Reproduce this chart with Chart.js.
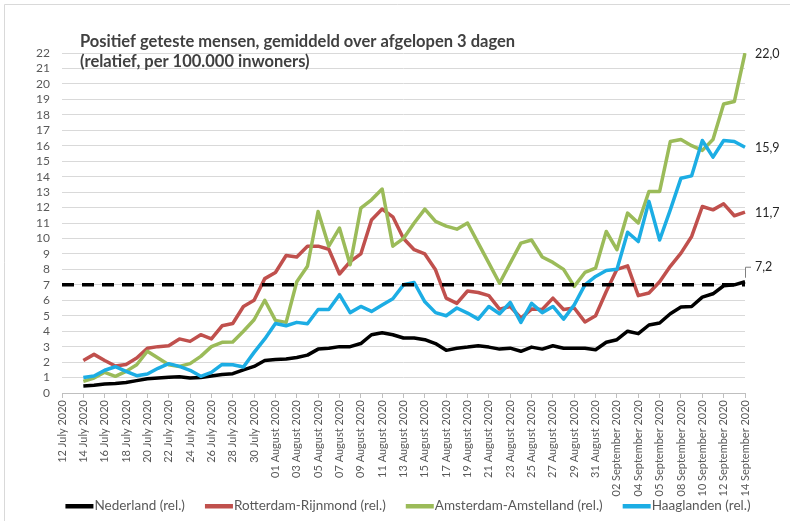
<!DOCTYPE html>
<html>
<head>
<meta charset="utf-8">
<title>Positief geteste mensen</title>
<script src="https://cdn.jsdelivr.net/npm/chart.js"></script>
<style>
    body { margin: 0; background: #ffffff; }
    canvas { display: block; }
</style>
</head>
<body>
<canvas id="chart" width="790" height="521"></canvas>
<script>
// Axis labels, one every two days (12 July .. 14 September 2020)
const tickLabels = [
    '12 July 2020', '14 July 2020', '16 July 2020', '18 July 2020', '20 July 2020',
    '22 July 2020', '24 July 2020', '26 July 2020', '28 July 2020', '30 July 2020',
    '01 August 2020', '03 August 2020', '05 August 2020', '07 August 2020', '09 August 2020',
    '11 August 2020', '13 August 2020', '15 August 2020', '17 August 2020', '19 August 2020',
    '21 August 2020', '23 August 2020', '25 August 2020', '27 August 2020', '29 August 2020',
    '31 August 2020', '02 September 2020', '04 September 2020', '05 September 2020', '08 September 2020',
    '10 September 2020', '12 September 2020', '14 September 2020'
];

const titleLines = [
    'Positief geteste mensen, gemiddeld over afgelopen 3 dagen',
    '(relatief, per 100.000 inwoners)'
];

const seriesNames = ['Nederland (rel.)', 'Rotterdam-Rijnmond (rel.)', 'Amsterdam-Amstelland (rel.)', 'Haaglanden (rel.)'];

// daily values from 14 July to 14 September
const nederland = [
    0.45, 0.5, 0.58, 0.62, 0.68, 0.8, 0.92, 0.97, 1.02, 1.05, 0.97, 1.0, 1.1, 1.2, 1.25, 1.5,
    1.72, 2.1, 2.16, 2.2, 2.3, 2.45, 2.84, 2.9, 3.0, 3.0, 3.2, 3.77, 3.9, 3.77, 3.56, 3.56,
    3.45, 3.2, 2.76, 2.9, 2.97, 3.06, 2.97, 2.84, 2.9, 2.7, 2.97, 2.84, 3.06, 2.9, 2.9, 2.9,
    2.8, 3.28, 3.45, 4.0, 3.84, 4.4, 4.53, 5.13, 5.56, 5.6, 6.2, 6.42, 6.94, 7.0, 7.2
];
const rotterdam = [
    2.1, 2.5, 2.1, 1.75, 1.85, 2.26, 2.9, 3.0, 3.06, 3.5, 3.34, 3.77, 3.5, 4.35, 4.5, 5.6,
    6.0, 7.4, 7.8, 8.9, 8.8, 9.5, 9.5, 9.3, 7.7, 8.5, 9.0, 11.2, 11.9, 11.4, 10.0, 9.27,
    9.0, 7.97, 6.14, 5.8, 6.6, 6.5, 6.3, 5.43, 5.6, 4.85, 5.43, 5.4, 6.14, 5.4, 5.5, 4.6,
    5.0, 6.57, 8.0, 8.23, 6.3, 6.47, 7.2, 8.2, 9.05, 10.13, 12.07, 11.85, 12.24, 11.47, 11.7
];
const amsterdam = [
    0.75, 0.97, 1.34, 1.08, 1.4, 1.83, 2.7, 2.26, 1.83, 1.72, 1.9, 2.37, 3.0, 3.28, 3.3, 4.0,
    4.74, 6.0, 4.7, 4.57, 7.2, 8.2, 11.75, 9.5, 10.67, 8.3, 11.96, 12.5, 13.2, 9.5, 10.0, 11.0,
    11.9, 11.1, 10.8, 10.6, 11.0, 9.7, 8.4, 7.1, 8.4, 9.7, 9.9, 8.8, 8.45, 8.0, 6.9, 7.8,
    8.08, 10.45, 9.27, 11.64, 11.0, 13.04, 13.04, 16.27, 16.4, 16.0, 15.7, 16.4, 18.7, 18.86, 22.0
];
const haaglanden = [
    1.0, 1.1, 1.47, 1.7, 1.4, 1.12, 1.23, 1.6, 1.9, 1.72, 1.47, 1.08, 1.34, 1.85, 1.83, 1.68,
    2.63, 3.5, 4.5, 4.35, 4.57, 4.48, 5.4, 5.4, 6.36, 5.2, 5.6, 5.28, 5.7, 6.1, 7.0, 7.15,
    5.9, 5.2, 5.0, 5.5, 5.17, 4.78, 5.6, 5.13, 5.86, 4.57, 5.8, 5.2, 5.6, 4.78, 5.7, 7.0,
    7.54, 7.93, 8.0, 10.4, 9.8, 12.4, 9.9, 11.85, 13.9, 14.05, 16.34, 15.26, 16.34, 16.27, 15.9
];

const threshold = 7;
const daysBeforeData = 2; // series start on 14 July

// one category per day; only every second day carries a label
const categories = [];
tickLabels.forEach(function (label, i) {
    categories.push(label);
    if (i < tickLabels.length - 1) categories.push('');
});

function pad(values) {
    return new Array(daysBeforeData).fill(null).concat(values);
}

const colors = ['#000000', '#c0504d', '#9bbb59', '#1cade4'];
const values = [nederland, rotterdam, amsterdam, haaglanden];

const datasets = values.map(function (v, i) {
    return {
        label: seriesNames[i],
        data: pad(v),
        borderColor: colors[i],
        backgroundColor: colors[i],
        borderWidth: 3.5,
        pointRadius: 0,
        tension: 0,
        borderJoinStyle: 'round',
        order: 4 - i,
    };
});

datasets.push({
    label: 'threshold',
    data: categories.map(function () { return threshold; }),
    borderColor: '#000000',
    borderWidth: 3.5,
    borderDash: [12, 8],
    pointRadius: 0,
    order: 0,
});

// frame, title, end-of-line values and the legend row, drawn like in the original
const annotate = {
    id: 'annotate',
    beforeDraw(chart) {
        const ctx = chart.ctx;
        ctx.save();
        ctx.strokeStyle = '#d9d9d9';
        ctx.lineWidth = 1;
        ctx.beginPath();
        ctx.moveTo(4.5, chart.height);
        ctx.lineTo(4.5, 4.5);
        ctx.lineTo(chart.width, 4.5);
        ctx.stroke();
        ctx.restore();
    },
    afterDatasetsDraw(chart) {
        const ctx = chart.ctx;
        ctx.save();
        ctx.fillStyle = '#404040';
        ctx.font = 'bold 16.5px Lato';
        ctx.textBaseline = 'alphabetic';
        ctx.fillText(titleLines[0], 80, 47);
        ctx.fillText(titleLines[1], 80, 67);

        ctx.font = '12.5px Lato';
        ctx.fillStyle = '#262626';
        ctx.textBaseline = 'middle';
        for (let i = 0; i < values.length; i++) {
            const meta = chart.getDatasetMeta(i);
            const pt = meta.data[meta.data.length - 1];
            const last = values[i][values[i].length - 1];
            const text = last.toFixed(1).replace('.', ',');
            if (i === 0) {
                // small leader line for the Nederland value
                ctx.strokeStyle = '#7f7f7f';
                ctx.lineWidth = 1;
                ctx.beginPath();
                ctx.moveTo(pt.x + 0.5, pt.y - 4);
                ctx.lineTo(pt.x + 0.5, pt.y - 14.5);
                ctx.lineTo(pt.x + 6, pt.y - 14.5);
                ctx.stroke();
                ctx.fillText(text, pt.x + 10, pt.y - 15);
            } else {
                ctx.fillText(text, pt.x + 10, pt.y + 1);
            }
        }

        // legend: thick line swatch directly followed by the name
        ctx.font = '13.5px Lato';
        ctx.fillStyle = '#595959';
        const swatch = 28, itemGap = 20, legendY = 506, legendCenter = 408;
        const widths = seriesNames.map(function (n) { return swatch + 1 + ctx.measureText(n).width; });
        const total = widths.reduce(function (a, b) { return a + b; }, 0) + itemGap * (widths.length - 1);
        let x = legendCenter - total / 2;
        seriesNames.forEach(function (name, i) {
            ctx.fillStyle = colors[i];
            ctx.fillRect(x, legendY - 2, swatch, 4.5);
            ctx.fillStyle = '#595959';
            ctx.fillText(name, x + swatch + 1, legendY);
            x += widths[i] + itemGap;
        });
        ctx.restore();
    }
};

new Chart(document.getElementById('chart'), {
    type: 'line',
    data: {
        labels: categories,
        datasets: datasets
    },
    plugins: [annotate],
    options: {
        responsive: false,
        animation: false,
        devicePixelRatio: 1,
        layout: {
            padding: { top: 53, right: 45, left: 0, bottom: 0 }
        },
        scales: {
            x: {
                type: 'category',
                offset: false,
                afterFit: function (scale) { scale.height = 128; },
                border: { display: true, color: '#bfbfbf', width: 1 },
                grid: {
                    drawOnChartArea: false,
                    drawTicks: true,
                    tickLength: 5,
                    color: '#bfbfbf'
                },
                ticks: {
                    autoSkip: false,
                    minRotation: 90,
                    maxRotation: 90,
                    padding: 2,
                    color: '#595959',
                    font: { family: 'Lato', size: 11 },
                    callback: function (value, index) {
                        return index % 2 === 0 ? categories[index] : null;
                    }
                }
            },
            y: {
                min: 0,
                max: 22,
                afterFit: function (scale) { scale.width = 62; },
                border: { display: false },
                grid: {
                    color: '#d9d9d9',
                    drawTicks: false
                },
                ticks: {
                    stepSize: 1,
                    autoSkip: false,
                    padding: 12,
                    color: '#595959',
                    font: { family: 'Lato', size: 12 }
                }
            }
        },
        plugins: {
            title: { display: false },
            tooltip: { enabled: false },
            legend: { display: false }
        }
    }
});
</script>
</body>
</html>
